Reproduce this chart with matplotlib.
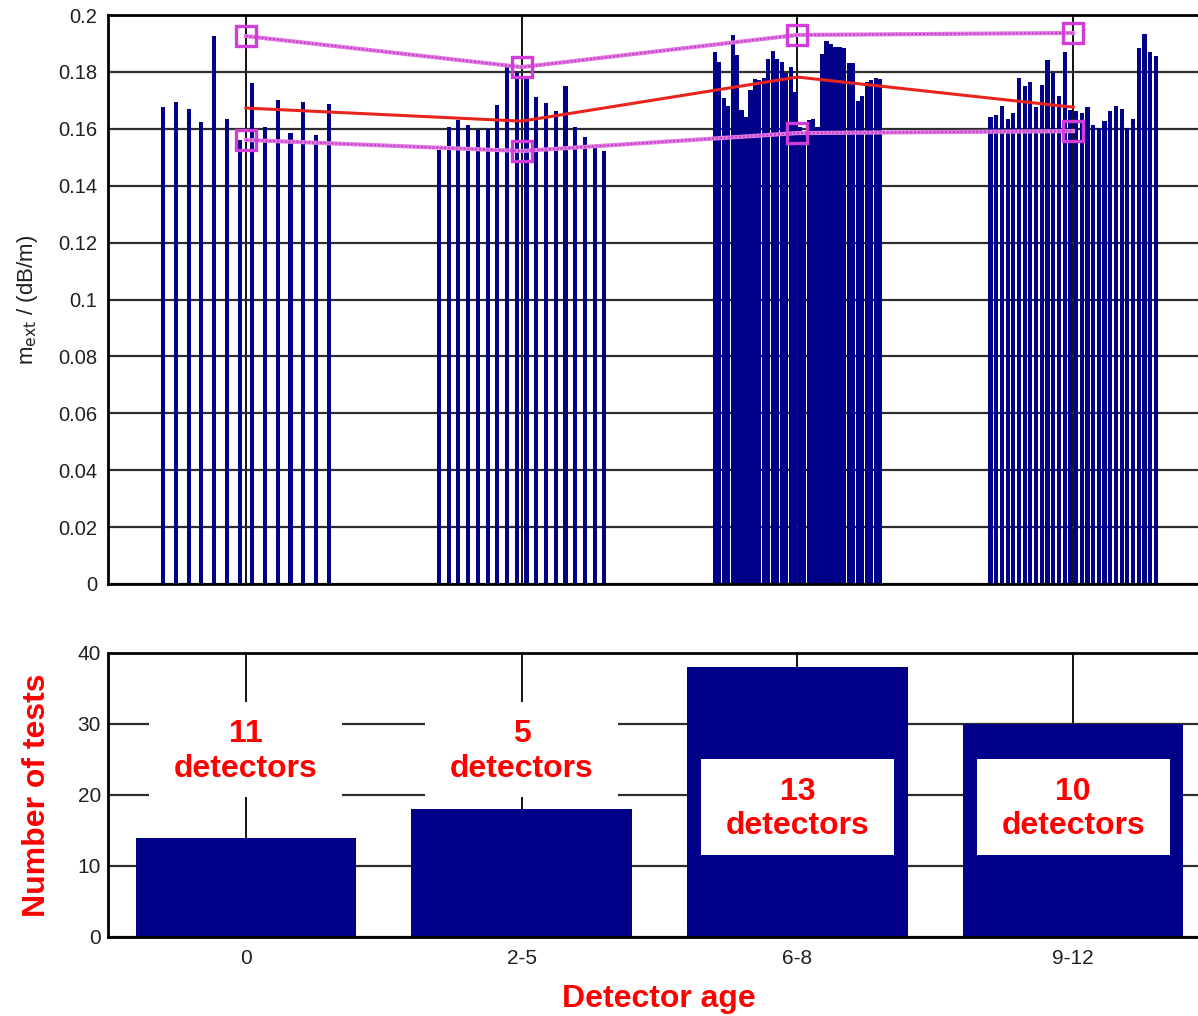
import matplotlib.pyplot as plt
from matplotlib.patches import Rectangle

plt.rcParams['font.family'] = ['Liberation Sans', 'DejaVu Sans']

# age classes shared by both panels
age_groups = ['0', '2-5', '6-8', '9-12']
n_tests = [14, 18, 38, 30]
n_detectors = [11, 5, 13, 10]

# extinction coefficient of each test, per age class (dB/m)
m_age0 = [0.1676, 0.1695, 0.1670, 0.1625, 0.1927, 0.1634, 0.1561,
          0.1760, 0.1605, 0.1703, 0.1587, 0.1694, 0.1578, 0.1687]
m_age2_5 = [0.1526, 0.1607, 0.1631, 0.1613, 0.1596, 0.1598, 0.1683, 0.1818, 0.1795,
            0.1783, 0.1713, 0.1692, 0.1664, 0.1749, 0.1605, 0.1570, 0.1537, 0.1523]
m_age6_8 = [0.1871, 0.1836, 0.1710, 0.1680, 0.1930, 0.1860, 0.1666, 0.1640,
            0.1736, 0.1774, 0.1772, 0.1778, 0.1845, 0.1874, 0.1845, 0.1836,
            0.1795, 0.1817, 0.1730, 0.1605, 0.1590, 0.1630, 0.1634, 0.1605,
            0.1863, 0.1910, 0.1898, 0.1889, 0.1889, 0.1883, 0.1831, 0.1831,
            0.1697, 0.1716, 0.1766, 0.1770, 0.1778, 0.1774]
m_age9_12 = [0.1640, 0.1649, 0.1680, 0.1636, 0.1657, 0.1778, 0.1749, 0.1766,
             0.1676, 0.1753, 0.1842, 0.1795, 0.1714, 0.1871, 0.1666, 0.1664,
             0.1655, 0.1676, 0.1612, 0.1603, 0.1626, 0.1664, 0.1681, 0.1671,
             0.1603, 0.1634, 0.1883, 0.1933, 0.1871, 0.1857]

# summary per age class
m_mean = [0.1673, 0.1627, 0.1782, 0.1676]
m_max = [0.1926, 0.1817, 0.1930, 0.1937]
m_min = [0.1561, 0.1522, 0.1585, 0.1592]

m_ticks = [0, 0.02, 0.04, 0.06, 0.08, 0.1, 0.12, 0.14, 0.16, 0.18, 0.2]
m_ticklabels = ['0', '0.02', '0.04', '0.06', '0.08', '0.1', '0.12', '0.14', '0.16', '0.18', '0.2']
count_ticks = [0, 10, 20, 30, 40]

navy = '#000088'
grid_col = '#2e2e2e'
tick_col = '#202020'

fig = plt.figure(figsize=(11.98, 10.16), dpi=100)
ax = fig.add_axes([0.0902, 0.4252, 0.9207, 0.5600])
ax2 = fig.add_axes([0.0902, 0.0778, 0.9207, 0.2795])

xc = list(range(1, len(age_groups) + 1))

# top panel: one thin bar per test, spread over 0.6 of each class
for i, vals in enumerate([m_age0, m_age2_5, m_age6_8, m_age9_12]):
    n = len(vals)
    xs = [xc[i] - 0.3 + 0.6 * k / (n - 1) for k in range(n)]
    ax.bar(xs, vals, width=0.015, color=navy, zorder=2)

ax.plot(xc, m_mean, color='#e8251c', lw=2.2, zorder=3)
for series in (m_max, m_min):
    ax.plot(xc, series, color='#e27ce2', lw=3, zorder=3)
    ax.plot(xc, series, color='#c23cc8', lw=1.4, ls=(0, (1, 1)), zorder=3,
            marker='s', ms=14, mfc='none', mec='#d23cd8', mew=2.4)

ax.set_xlim(0.5, 4.5)
ax.set_ylim(0, 0.2)
ax.set_xticks(xc)
ax.set_xticklabels([])
ax.set_yticks(m_ticks)
ax.set_yticklabels(m_ticklabels)
ax.tick_params(length=0, labelsize=14.5, colors=tick_col, pad=8)
ax.grid(True, color=grid_col, lw=1.6)
ax.grid(True, axis='x', color='#111111', lw=1.4)
ax.set_axisbelow(True)
for s in ax.spines.values():
    s.set_linewidth(2)

# bottom panel: number of tests per age class
ax2.bar(xc, n_tests, width=0.8, color=navy, zorder=2)
ax2.set_xlim(0.5, 4.5)
ax2.set_ylim(0, 40)
ax2.set_xticks(xc)
ax2.set_xticklabels(age_groups)
ax2.set_yticks(count_ticks)
ax2.tick_params(length=0, labelsize=15, colors=tick_col)
ax2.tick_params(axis='y', pad=5)
ax2.tick_params(axis='x', pad=9)
ax2.grid(True, color=grid_col, lw=1.6)
ax2.grid(True, axis='x', color='#111111', lw=1.4)
ax2.set_axisbelow(True)
for s in ax2.spines.values():
    s.set_linewidth(2)

# detector counts in white boxes
box_y = [26.4, 26.4, 18.3, 18.3]
for i in range(len(age_groups)):
    ax2.add_patch(Rectangle((xc[i] - 0.35, box_y[i] - 6.75), 0.7, 13.5,
                            facecolor='white', edgecolor='none', zorder=4))
    ax2.text(xc[i], box_y[i] - 0.3, '%d\ndetectors' % n_detectors[i], ha='center', va='center',
             color='#ff0000', fontsize=23, fontweight='bold', zorder=5)

fig.text(27 / 1198, 1 - 300 / 1016, r'm$_{\mathrm{ext}}$ / (dB/m)', rotation=90,
         ha='center', va='center', fontsize=16, color=tick_col)
fig.text(37 / 1198, 1 - 795 / 1016, 'Number of tests', rotation=90, ha='center', va='center',
         fontsize=23, fontweight='bold', color='#ff0000')
fig.text(659 / 1198, 1 - 999 / 1016, 'Detector age', ha='center', va='center',
         fontsize=23, fontweight='bold', color='#ff0000')

fig.savefig('out.png', dpi=100)
